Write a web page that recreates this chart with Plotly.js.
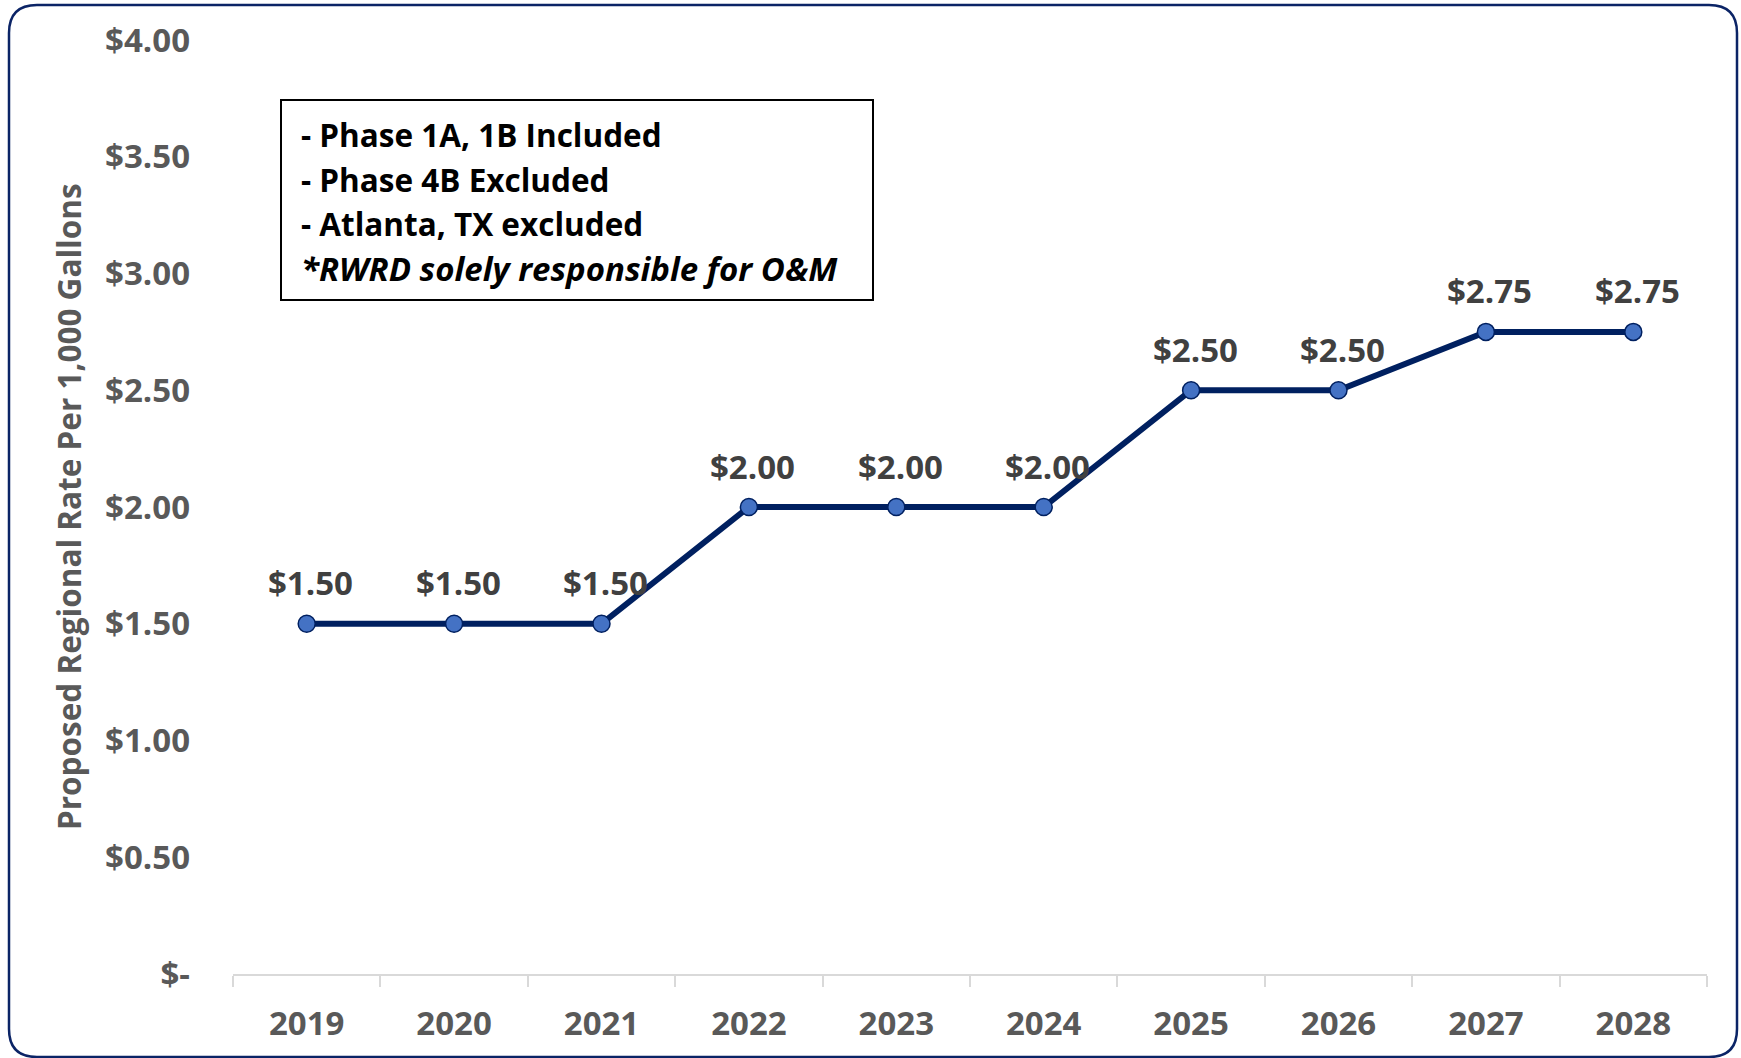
<!DOCTYPE html>
<html>
<head>
<meta charset="utf-8">
<script src="https://cdn.plot.ly/plotly-3.0.1.min.js"></script>
<style>
  html, body { margin: 0; padding: 0; background: #ffffff; }
  #chart { width: 1741px; height: 1058px; }
</style>
</head>
<body>
<div id="chart"></div>
<script>
// ---- Data ----
const years = ["2019", "2020", "2021", "2022", "2023", "2024", "2025", "2026", "2027", "2028"];
const rates = [1.50, 1.50, 1.50, 2.00, 2.00, 2.00, 2.50, 2.50, 2.75, 2.75];
const yTickVals = [0, 0.5, 1.0, 1.5, 2.0, 2.5, 3.0, 3.5, 4.0];
const yTickText = ["$-", "$0.50", "$1.00", "$1.50", "$2.00", "$2.50", "$3.00", "$3.50", "$4.00"];
const noteLines = ["- Phase 1A, 1B Included", "- Phase 4B Excluded", "- Atlanta, TX excluded", "<i>*RWRD solely responsible for O&M</i>"];
const yTitle = "Proposed Regional Rate Per 1,000 Gallons";

// ---- Layout geometry (pixels) ----
const W = 1741, H = 1058;
const mL = 233, mR = 34, mT = 40, mB = 84;
const pw = W - mL - mR, ph = H - mT - mB;
const px = x => (x - mL) / pw;
const py = y => (H - mB - y) / ph;

const FONT = "'Open Sans', Lato, sans-serif";

const trace = {
  x: years,
  y: rates,
  type: "scatter",
  mode: "lines+markers",
  line: { color: "#002060", width: 6 },
  marker: { size: 17, color: "#4472C4", line: { color: "#002060", width: 1.5 } },
  hoverinfo: "skip",
  cliponaxis: false
};

const annotations = years.map((yr, i) => ({
  x: i, y: rates[i], xref: "x", yref: "y",
  text: "$" + rates[i].toFixed(2),
  showarrow: false, yshift: 41, xshift: 4,
  font: { family: FONT, size: 33, color: "#404040", weight: "bold" }
}));

const lineY = [134, 179, 223, 268];
const noteSizes = [31.5, 31.5, 31.5, 33];
noteLines.forEach((t, i) => {
  annotations.push({
    x: px(299), y: py(lineY[i]), xref: "paper", yref: "paper",
    xanchor: "left", yanchor: "middle",
    text: t, showarrow: false,
    font: { family: FONT, size: noteSizes[i], color: "#000000", weight: "bold" }
  });
});

// y-axis title (placed as rotated annotation for exact positioning)
annotations.push({
  x: px(68), y: 0.5, xref: "paper", yref: "paper",
  xanchor: "center", yanchor: "middle",
  text: yTitle, textangle: -90, showarrow: false,
  font: { family: FONT, size: 31.5, color: "#595959", weight: "bold" }
});

// rounded outer border
const bx0 = 9, bx1 = 1737, by0 = 5, by1 = 1057, r = 28;
const P = (x, y) => px(x) + "," + py(y);
const borderPath =
  "M " + P(bx0 + r, by0) +
  " L " + P(bx1 - r, by0) +
  " Q " + P(bx1, by0) + " " + P(bx1, by0 + r) +
  " L " + P(bx1, by1 - r) +
  " Q " + P(bx1, by1) + " " + P(bx1 - r, by1) +
  " L " + P(bx0 + r, by1) +
  " Q " + P(bx0, by1) + " " + P(bx0, by1 - r) +
  " L " + P(bx0, by0 + r) +
  " Q " + P(bx0, by0) + " " + P(bx0 + r, by0) + " Z";

const shapes = [
  { type: "path", xref: "paper", yref: "paper", path: borderPath,
    line: { color: "#0B2466", width: 2.5 }, fillcolor: "rgba(0,0,0,0)", layer: "above" },
  { type: "rect", xref: "paper", yref: "paper",
    x0: px(281), x1: px(873), y0: py(300), y1: py(100),
    line: { color: "#000000", width: 2 }, fillcolor: "rgba(0,0,0,0)" }
];

const layout = {
  width: W, height: H,
  margin: { l: mL, r: mR, t: mT, b: mB, autoexpand: false },
  paper_bgcolor: "#ffffff",
  plot_bgcolor: "#ffffff",
  showlegend: false,
  font: { family: FONT },
  xaxis: {
    type: "category",
    range: [-0.5, 9.5],
    showgrid: false,
    zeroline: false,
    showline: true,
    linecolor: "#D9D9D9",
    linewidth: 2,
    ticks: "outside",
    tickson: "boundaries",
    ticklen: 11,
    tickwidth: 2,
    tickcolor: "#D9D9D9",
    ticklabelstandoff: 19,
    tickfont: { family: FONT, size: 33, color: "#595959", weight: "bold" },
    fixedrange: true
  },
  yaxis: {
    range: [0, 4],
    tickvals: yTickVals,
    ticktext: yTickText,
    showgrid: false,
    zeroline: false,
    showline: false,
    ticks: "",
    ticklabelstandoff: 42,
    tickfont: { family: FONT, size: 33, color: "#595959", weight: "bold" },
    fixedrange: true
  },
  shapes: shapes,
  annotations: annotations
};

Plotly.newPlot("chart", [trace], layout, { displayModeBar: false, staticPlot: true });
</script>
</body>
</html>
